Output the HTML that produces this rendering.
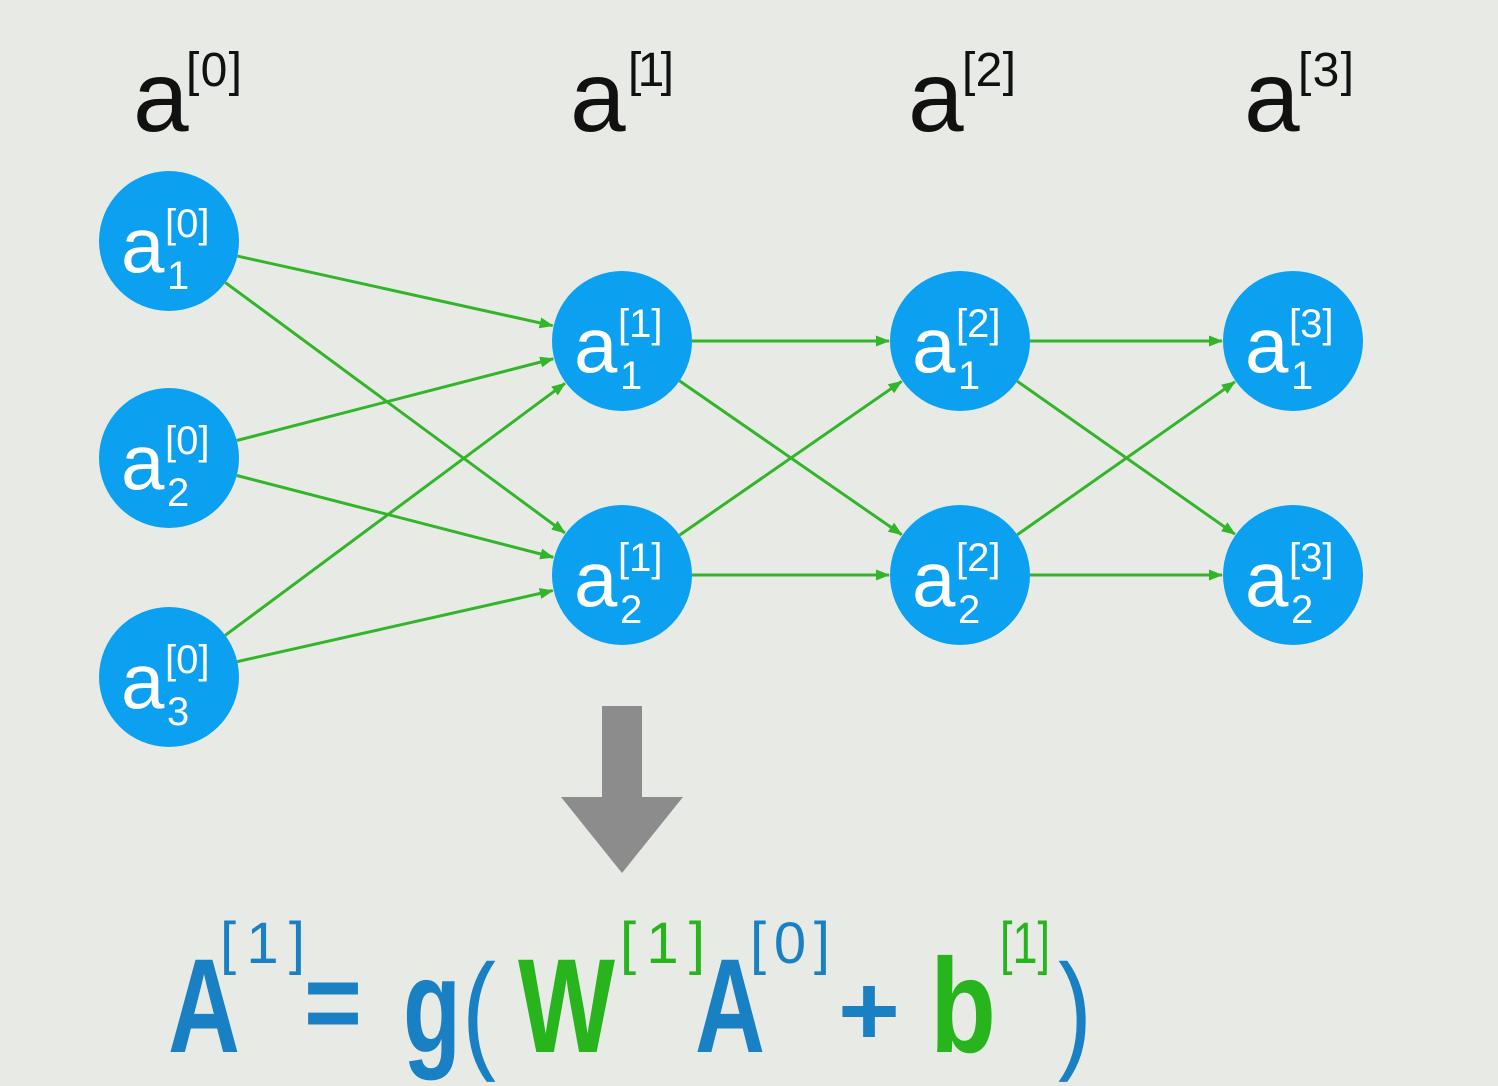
<!DOCTYPE html>
<html><head><meta charset="utf-8"><style>
html,body{margin:0;padding:0;background:#e8ebe5;}
svg{display:block;font-family:"Liberation Sans",sans-serif;}
</style></head><body>
<svg id="s" width="1498" height="1086" viewBox="0 0 1498 1086">
<defs><marker id="ar" markerWidth="14" markerHeight="11" refX="13" refY="5.5" orient="auto" markerUnits="userSpaceOnUse"><path d="M0,0 L14,5.5 L0,11 z" fill="#33b52a"/></marker></defs>
<rect width="1498" height="1086" fill="#e8ebe5"/>
<g id="edges" stroke="#33b52a" stroke-width="3" fill="none"></g>
<g id="nodes"></g>
<g font-size="100" fill="#111">
<text x="133" y="131">a</text><text x="186" y="86" font-size="48" textLength="56" lengthAdjust="spacing">[0]</text>
<text x="570" y="131">a</text><text x="628" y="86" font-size="48" textLength="46" lengthAdjust="spacing">[1]</text>
<text x="908" y="131">a</text><text x="962" y="86" font-size="48" textLength="54" lengthAdjust="spacing">[2]</text>
<text x="1244" y="131">a</text><text x="1298" y="86" font-size="48" textLength="56" lengthAdjust="spacing">[3]</text>
</g>
<path d="M602,706 H642 V797 H683 L622,873 L561,797 H602 Z" fill="#8c8c8c"/>
<g font-weight="bold" font-size="134" fill="#1a80c4">
<text x="168" y="1052" textLength="72" lengthAdjust="spacingAndGlyphs">A</text>
<text x="220" y="963" font-size="58" font-weight="normal" textLength="85" lengthAdjust="spacing">[1]</text>
<text x="304" y="1040" font-size="110" textLength="58" lengthAdjust="spacingAndGlyphs">=</text>
<text x="403" y="1052" textLength="58" lengthAdjust="spacingAndGlyphs">g</text>
<text x="462" y="1055" font-size="130" font-weight="normal" textLength="34" lengthAdjust="spacingAndGlyphs">(</text>
<text x="518" y="1052" fill="#27b41c" textLength="97" lengthAdjust="spacingAndGlyphs">W</text>
<text x="620" y="963" font-size="58" font-weight="normal" fill="#27b41c" textLength="85" lengthAdjust="spacing">[1]</text>
<text x="695" y="1052" textLength="70" lengthAdjust="spacingAndGlyphs">A</text>
<text x="750" y="963" font-size="58" font-weight="normal" textLength="80" lengthAdjust="spacing">[0]</text>
<text x="838" y="1045" font-size="100" textLength="62" lengthAdjust="spacingAndGlyphs">+</text>
<text x="930" y="1052" fill="#27b41c" textLength="66" lengthAdjust="spacingAndGlyphs">b</text>
<text x="1000" y="963" font-size="58" font-weight="normal" fill="#27b41c" textLength="50" lengthAdjust="spacingAndGlyphs">[1]</text>
<text x="1058" y="1055" font-size="130" font-weight="normal" textLength="34" lengthAdjust="spacingAndGlyphs">)</text>
</g>
</svg>
<script>
var L=[[[169,241],[169,458],[169,677]],[[622,341],[622,575]],[[960,341],[960,575]],[[1293,341],[1293,575]]];
var R=70,ns="http://www.w3.org/2000/svg",E=document.getElementById('edges'),N=document.getElementById('nodes');
for(var l=0;l<3;l++)for(var i=0;i<L[l].length;i++)for(var j=0;j<L[l+1].length;j++){
var a=L[l][i],b=L[l+1][j],dx=b[0]-a[0],dy=b[1]-a[1],d=Math.hypot(dx,dy),ux=dx/d,uy=dy/d;
var e=document.createElementNS(ns,'line');
e.setAttribute('x1',a[0]+ux*R);e.setAttribute('y1',a[1]+uy*R);
e.setAttribute('x2',b[0]-ux*(R+1));e.setAttribute('y2',b[1]-uy*(R+1));
e.setAttribute('marker-end','url(#ar)');E.appendChild(e);}
for(var l=0;l<4;l++)for(var i=0;i<L[l].length;i++){
var p=L[l][i],c=document.createElementNS(ns,'circle');
c.setAttribute('cx',p[0]);c.setAttribute('cy',p[1]);c.setAttribute('r',R);c.setAttribute('fill','#0ba0f0');N.appendChild(c);
function t(x,y,s,txt){var q=document.createElementNS(ns,'text');q.setAttribute('x',x);q.setAttribute('y',y);q.setAttribute('font-size',s);q.setAttribute('fill','#fff');q.textContent=txt;N.appendChild(q);}
t(p[0]-48,p[1]+31,78,'a');t(p[0]-4,p[1]-4,40,'['+l+']');t(p[0]-2,p[1]+48,40,String(i+1));}
</script>
</body></html>
